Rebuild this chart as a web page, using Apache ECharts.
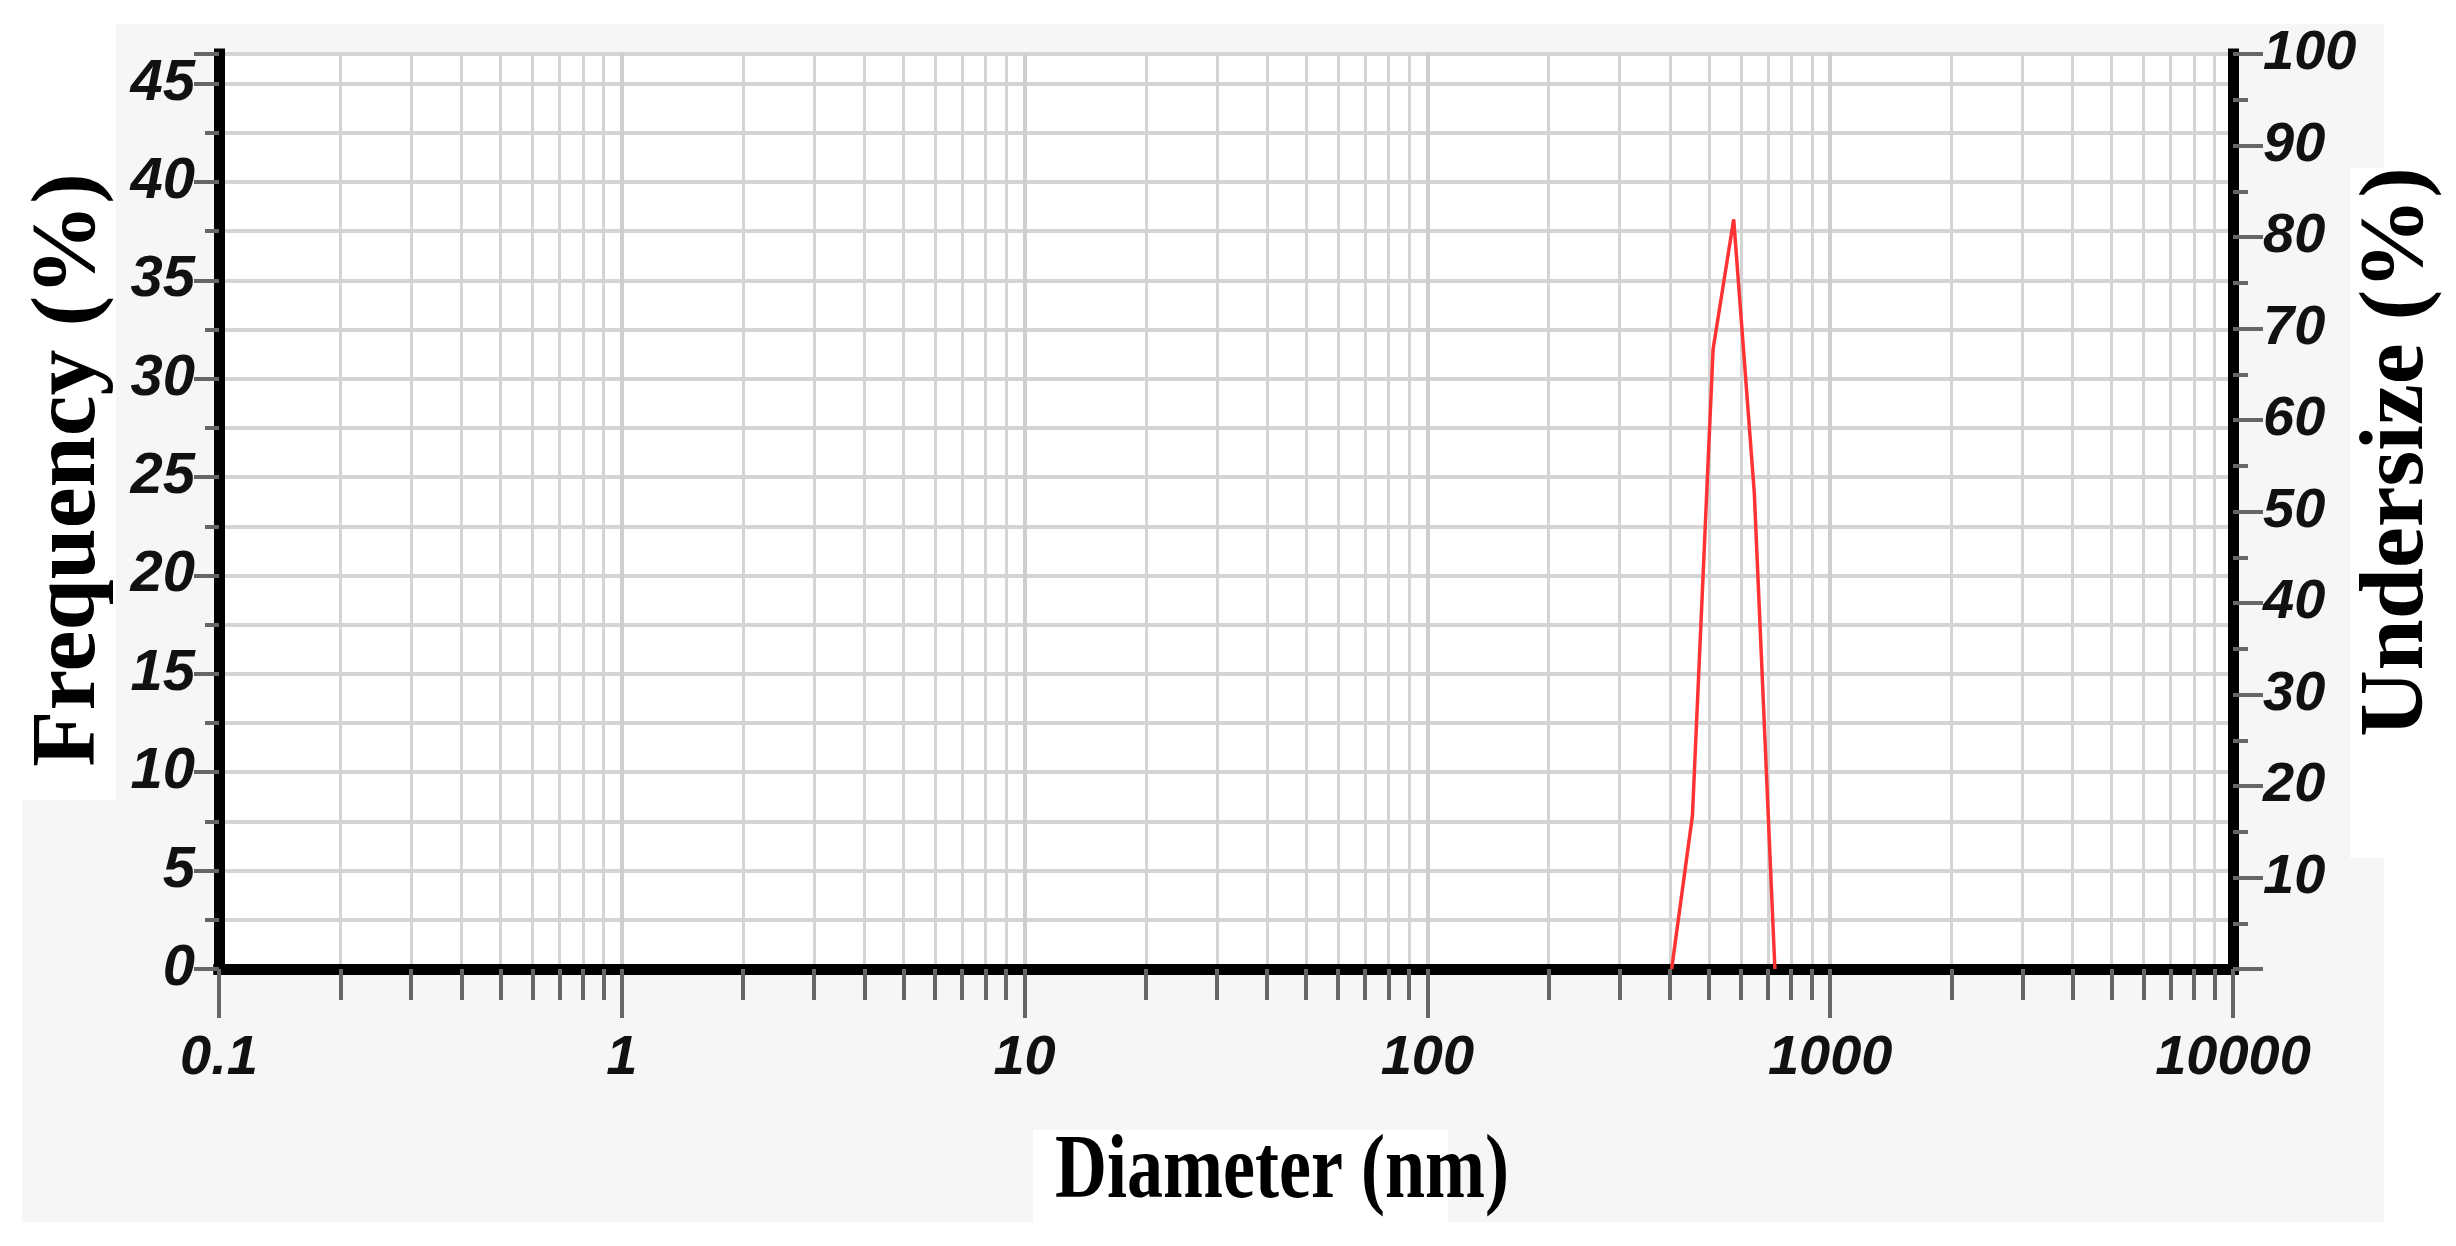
<!DOCTYPE html>
<html>
<head>
<meta charset="utf-8">
<title>Diameter distribution</title>
<script src="https://cdn.jsdelivr.net/npm/echarts@6.0.0/dist/echarts.min.js"></script>
<style>
  html, body { margin: 0; padding: 0; background: #fff; }
  #chart { width: 2456px; height: 1246px; }
</style>
</head>
<body>
<div id="chart"></div>
<script>
// values
const diameters = [404, 455, 512, 576, 648, 729];
const frequency = [0, 7.8, 31.5, 38.1, 24.2, 0];

// tick labels
const diameterTicks = ["0.1", "1", "10", "100", "1000", "10000"];
const frequencyTicks = ["0", "5", "10", "15", "20", "25", "30", "35", "40", "45"];
const undersizeTicks = ["10", "20", "30", "40", "50", "60", "70", "80", "90", "100"];

const tickFont = "'Liberation Sans Narrow', 'Liberation Sans', Arial, sans-serif";
const titleFont = "'Liberation Serif', 'Times New Roman', serif";
const gridGray = "#d4d4d4";
const tickGray = "#666";

function pickLabel(list, v) {
  const hit = list.find(t => Math.abs(parseFloat(t) - v) < 1e-6 * Math.max(1, v));
  return hit === undefined ? "" : hit;
}

const chart = echarts.init(document.getElementById("chart"));

const option = {
  backgroundColor: "#fff",
  animation: false,
  graphic: [
    // light gray paper behind the plot, with the white patches of the original
    { type: "rect", z: -10, shape: { x: 22, y: 24, width: 2362, height: 1198 }, style: { fill: "#f6f6f6" } },
    { type: "rect", z: -9, shape: { x: 0, y: 0, width: 116, height: 800 }, style: { fill: "#fff" } },
    { type: "rect", z: -9, shape: { x: 2350, y: 168, width: 106, height: 690 }, style: { fill: "#fff" } },
    { type: "rect", z: -9, shape: { x: 1033, y: 1130, width: 415, height: 116 }, style: { fill: "#fff" } },
    {
      type: "text", z: 5, x: 70, y: 470, rotation: Math.PI / 2,
      style: {
        text: "Frequency (%)", fill: "#000",
        font: "bold 92px " + titleFont,
        align: "center", verticalAlign: "middle",
        textAlign: "center", textVerticalAlign: "middle"
      }
    },
    {
      type: "text", z: 5, x: 2398, y: 452, rotation: Math.PI / 2,
      style: {
        text: "Undersize (%)", fill: "#000",
        font: "bold 92px " + titleFont,
        align: "center", verticalAlign: "middle",
        textAlign: "center", textVerticalAlign: "middle"
      }
    },
    {
      type: "text", z: 5, x: 1282, y: 1174, scaleY: 1.25,
      style: {
        text: "Diameter (nm)", fill: "#000",
        font: "bold 72px " + titleFont,
        align: "center", verticalAlign: "middle",
        textAlign: "center", textVerticalAlign: "middle"
      }
    }
  ],
  grid: {
    left: 219,
    right: 223,
    top: 54,
    bottom: 277,
    show: true,
    backgroundColor: "#fff",
    borderWidth: 0
  },
  xAxis: [
    {
      type: "log",
      logBase: 10,
      min: 0.1,
      max: 10000,
      position: "bottom",
      axisLine: { show: true, lineStyle: { color: "#000", width: 11, cap: "square" } },
      axisTick: { show: true, length: 49, lineStyle: { color: tickGray, width: 4 } },
      minorTick: { show: true, splitNumber: 9, length: 31, lineStyle: { color: tickGray, width: 4 } },
      axisLabel: {
        margin: 62,
        fontFamily: tickFont,
        fontSize: 56,
        fontStyle: "italic",
        fontWeight: "bold",
        color: "#111",
        formatter: v => pickLabel(diameterTicks, v)
      },
      splitLine: { show: true, lineStyle: { color: "#cecece", width: 4 } },
      minorSplitLine: { show: true, lineStyle: { color: gridGray, width: 3 } }
    },
    {
      type: "log",
      logBase: 10,
      min: 0.1,
      max: 10000,
      position: "top",
      axisLine: { show: true, lineStyle: { color: "#000", width: 11, cap: "square" } },
      axisTick: { show: false },
      axisLabel: { show: false },
      splitLine: { show: false }
    }
  ],
  yAxis: [
    {
      type: "value",
      position: "left",
      min: 0,
      max: 46.5,
      interval: 5,
      axisLine: { show: true, lineStyle: { color: "#000", width: 11, cap: "square" } },
      axisTick: { show: true, length: 25, lineStyle: { color: tickGray, width: 4 } },
      minorTick: { show: true, splitNumber: 2, length: 14, lineStyle: { color: tickGray, width: 4 } },
      axisLabel: {
        margin: 24,
        showMaxLabel: false,
        fontFamily: tickFont,
        fontSize: 58,
        fontStyle: "italic",
        fontWeight: "bold",
        color: "#111",
        formatter: v => pickLabel(frequencyTicks, v)
      },
      splitLine: { show: true, lineStyle: { color: gridGray, width: 4 } },
      minorSplitLine: { show: true, lineStyle: { color: gridGray, width: 4 } }
    },
    {
      type: "value",
      position: "right",
      min: 0,
      max: 100,
      interval: 10,
      axisLine: { show: true, lineStyle: { color: "#000", width: 11, cap: "square" } },
      axisTick: { show: true, length: 30, lineStyle: { color: tickGray, width: 4 } },
      minorTick: { show: true, splitNumber: 2, length: 15, lineStyle: { color: tickGray, width: 4 } },
      axisLabel: {
        margin: 30,
        fontFamily: tickFont,
        fontSize: 56,
        fontStyle: "italic",
        fontWeight: "bold",
        color: "#111",
        formatter: v => pickLabel(undersizeTicks, v)
      },
      splitLine: { show: false }
    }
  ],
  series: [
    {
      name: "Frequency",
      type: "line",
      xAxisIndex: 0,
      yAxisIndex: 0,
      showSymbol: false,
      smooth: false,
      data: diameters.map((d, i) => [d, frequency[i]]),
      lineStyle: { color: "#ff3333", width: 3.5 },
      itemStyle: { color: "#ff3333" }
    }
  ]
};

chart.setOption(option);
</script>
</body>
</html>
